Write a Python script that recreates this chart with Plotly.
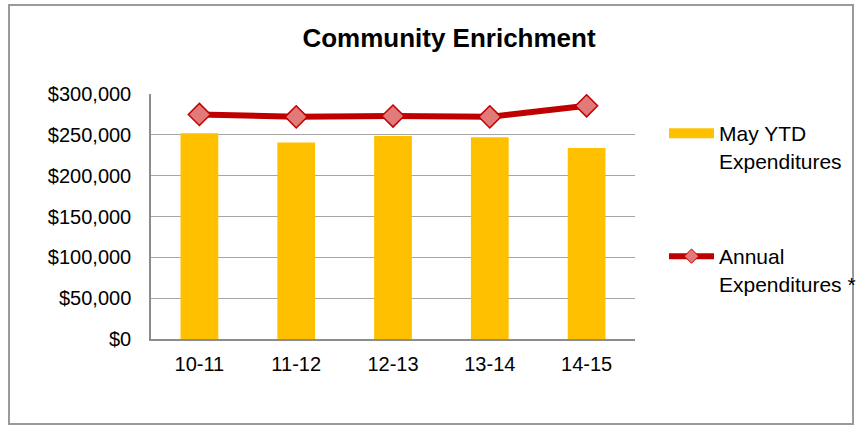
import plotly.graph_objects as go

# Fiscal years and expenditure values
years = ["10-11", "11-12", "12-13", "13-14", "14-15"]
may_ytd = [252000, 240500, 248500, 247000, 234000]
annual = [275000, 272000, 273000, 272000, 285500]
y_ticks = [0, 50000, 100000, 150000, 200000, 250000, 300000]
y_tick_text = ["${:,}".format(v) for v in y_ticks]

W, H = 861, 427
L, R, T, B = 151, 226, 94, 88
pw, ph = W - L - R, H - T - B


def px_x(p):
    return (p - L) / pw


def px_y(p):
    return (H - B - p) / ph


FONT = "Liberation Sans, Arial, sans-serif"

fig = go.Figure()

fig.add_trace(go.Bar(
    x=years, y=may_ytd, width=0.39,
    marker=dict(color="#FFC000", line=dict(width=0)),
    showlegend=False,
))

fig.add_trace(go.Scatter(
    x=years, y=annual, mode="lines+markers",
    line=dict(color="#C00000", width=6),
    marker=dict(symbol="diamond", size=17, color="#E27A7A",
                line=dict(color="#C00000", width=1.5)),
    showlegend=False,
))

# legend entries
fig.add_trace(go.Scatter(
    x=[None], y=[None], mode="lines",
    line=dict(color="#FFC000", width=10),
    name="May YTD<br>Expenditures", legend="legend",
))
fig.add_trace(go.Scatter(
    x=[None], y=[None], mode="lines+markers",
    line=dict(color="#C00000", width=6),
    marker=dict(symbol="diamond", size=11, color="#E27A7A",
                line=dict(color="#C00000", width=1)),
    name="Annual<br>Expenditures *", legend="legend2",
))

# outer chart frame
fig.add_shape(type="rect", xref="paper", yref="paper",
              x0=px_x(9), x1=px_x(853), y0=px_y(424), y1=px_y(5),
              line=dict(color="#9A9A9A", width=2), layer="below")

legend_style = dict(xanchor="left", yanchor="top", valign="top",
                    itemwidth=45, font=dict(size=21),
                    bgcolor="rgba(0,0,0,0)")

fig.update_layout(
    width=W, height=H,
    margin=dict(l=L, r=R, t=T, b=B, autoexpand=False),
    paper_bgcolor="white", plot_bgcolor="white",
    font=dict(family=FONT, size=20, color="black"),
    title=dict(text="<b>Community Enrichment</b>", xref="container",
               x=449 / W, xanchor="center",
               y=1 - 38 / H, yanchor="middle",
               font=dict(family=FONT, size=26, color="black")),
    xaxis=dict(type="category", range=[-0.5, 4.5], showgrid=False,
               showline=True, linecolor="#8C8C8C", linewidth=1.5,
               ticks="", tickfont=dict(size=20), ticklabelstandoff=6,
               fixedrange=True),
    yaxis=dict(range=[0, 300000], tickmode="array", tickvals=y_ticks,
               ticktext=y_tick_text, showgrid=True, gridcolor="#A6A6A6",
               gridwidth=1, showline=True, linecolor="#8C8C8C", linewidth=1.5,
               zeroline=False, ticks="", tickfont=dict(size=20),
               ticklabelstandoff=14),
    showlegend=True,
    legend=dict(x=px_x(664), y=px_y(113), **legend_style),
    legend2=dict(x=px_x(664), y=px_y(236), **legend_style),
)

fig.write_html("out.html")
